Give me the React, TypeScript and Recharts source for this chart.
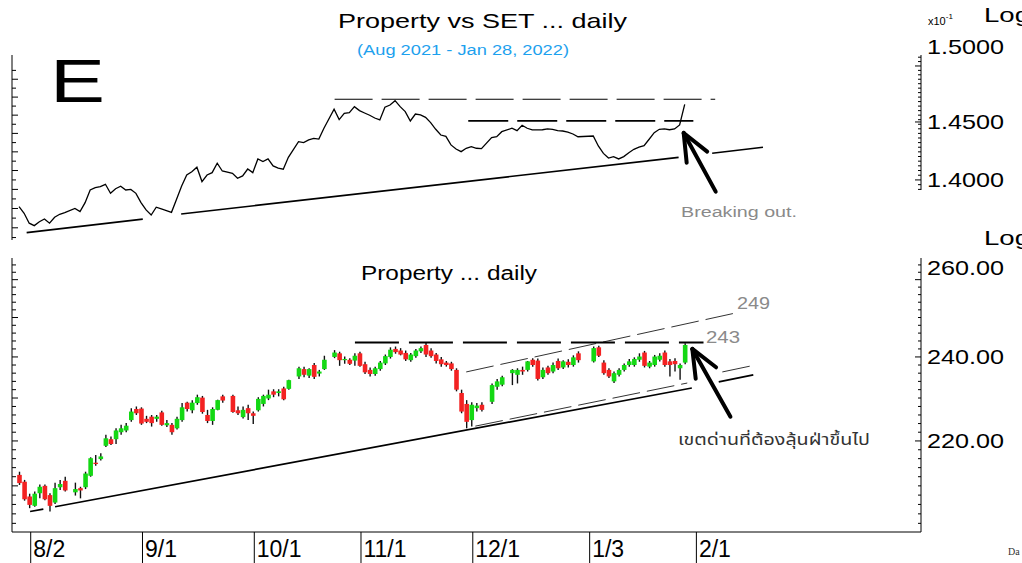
import React from "react";
import { ComposedChart, Line, Bar, XAxis, YAxis, ReferenceLine } from "recharts";

// one x slot per weekday starting Thu 29 Jul 2021, SET holidays stay empty
const FIRST_SLOT = "2021-07-29";
const LAST_SESSION = "2022-01-28";
const SLOT_COUNT = 178;
const HOLIDAYS = ["2021-08-12", "2021-09-24", "2021-10-13", "2021-10-22", "2021-12-06", "2021-12-10", "2021-12-31", "2022-01-03"];
const MONTH_DATES = ["2021-08-02", "2021-09-01", "2021-10-01", "2021-11-01", "2021-12-01", "2022-01-03", "2022-02-01"];
const MONTH_LABELS = ["8/2", "9/1", "10/1", "11/1", "12/1", "1/3", "2/1"];

// Property index, one value per session
const OPEN = [
  212.4, 210.9, 207.7, 205.7, 208.4, 210.0, 208.0, 206.4, 209.7, 211.1,
  208.6, 209.5, 209.7, 212.2, 215.1, 215.9, 218.9, 220.4, 220.4, 222.0,
  222.4, 224.8, 227.4, 227.5, 225.1, 225.6, 225.1, 226.6, 223.6, 223.7,
  222.9, 224.8, 228.9, 227.1, 228.8, 230.1, 226.0, 224.6, 227.2, 230.4,
  230.5, 227.1, 225.5, 227.6, 226.4, 227.1, 228.6, 229.9, 231.6, 231.2, 232.3, 232.2,
  235.2, 237.0, 235.4, 238.0, 235.9, 237.0,
  240.0, 240.9, 239.2, 239.3, 239.1, 240.9, 238.2, 236.8, 235.8, 237.0,
  238.4, 240.0, 242.0, 241.6, 241.0, 239.2, 240.2, 241.4, 243.0, 241.6,
  240.6, 239.4, 238.6, 238.4, 236.8, 231.2, 228.6, 224.8, 227.6, 228.4,
  229.1, 232.7, 233.2,
  236.0, 235.6, 236.8, 236.8, 239.3, 239.1, 235.0, 237.4, 236.4, 239.0, 237.4, 238.8, 238.0, 240.9,
  238.9, 242.4, 238.6, 236.8, 234.0, 235.6, 236.8, 238.0, 238.0, 239.3, 241.1, 237.6, 238.0, 239.3, 241.1, 238.9, 239.0, 237.2, 238.6,
];
const HIGH = [
  213.1, 211.3, 208.3, 208.8, 210.3, 210.3, 208.4, 210.7, 211.3, 212.0,
  210.7, 209.8, 213.1, 216.3, 216.8, 217.2, 221.4, 221.0, 222.9, 223.7,
  224.1, 227.6, 228.0, 227.8, 225.8, 226.0, 226.0, 227.0, 224.8, 224.1,
  225.6, 228.8, 229.1, 229.5, 230.8, 230.5, 227.2, 227.8, 229.6, 230.8,
  230.8, 228.0, 228.0, 228.4, 226.8, 230.2, 230.8, 232.0, 232.1, 232.1, 232.7, 234.4,
  237.6, 237.6, 237.2, 238.5, 236.8, 240.3,
  241.7, 241.3, 240.1, 239.7, 240.9, 241.3, 238.8, 237.4, 237.6, 239.0,
  240.6, 242.4, 242.6, 242.2, 241.6, 241.0, 242.0, 242.6, 243.6, 242.2,
  241.0, 240.0, 239.0, 238.8, 237.2, 232.0, 229.5, 229.0, 228.8, 229.0,
  233.5, 234.6, 235.4,
  237.0, 237.2, 237.6, 239.0, 239.7, 239.6, 237.4, 237.8, 238.6, 239.6, 239.2, 239.4, 240.4, 241.4,
  242.6, 242.8, 239.2, 237.2, 236.4, 237.2, 238.4, 239.5, 239.9, 240.9, 241.5, 239.0, 240.5, 240.9, 241.6, 239.5, 239.7, 238.4, 243.4,
];
const LOW = [
  210.2, 206.8, 205.2, 205.5, 207.3, 206.9, 204.5, 206.1, 209.1, 208.8,
  207.9, 207.3, 209.3, 212.0, 214.4, 215.6, 218.6, 219.1, 219.3, 221.4,
  222.0, 224.4, 226.0, 223.7, 224.1, 223.3, 224.4, 223.5, 223.2, 221.4,
  222.6, 224.4, 226.8, 226.4, 228.4, 226.3, 224.1, 223.7, 227.1, 228.9,
  226.5, 226.0, 225.2, 224.8, 223.9, 226.8, 228.0, 229.5, 230.2, 230.4, 229.5, 232.0,
  234.6, 235.0, 234.8, 234.6, 235.2, 236.8,
  239.7, 237.8, 238.3, 238.0, 237.8, 237.6, 235.8, 235.2, 235.4, 236.6,
  238.0, 239.6, 240.8, 240.4, 239.0, 238.8, 239.8, 241.0, 240.0, 239.8,
  238.4, 237.6, 237.6, 236.6, 231.6, 226.4, 222.9, 223.3, 226.8, 226.8,
  228.6, 232.0, 232.8,
  233.1, 233.5, 235.6, 236.4, 237.6, 234.2, 234.6, 235.6, 236.0, 236.8, 237.0, 237.4, 237.6, 238.6,
  238.6, 240.0, 235.6, 234.8, 233.6, 235.2, 236.4, 237.6, 237.6, 238.8, 237.4, 237.2, 237.6, 238.9, 237.6, 235.2, 236.4, 234.4, 238.2,
];
const CLOSE = [
  210.6, 207.1, 205.9, 208.3, 209.8, 207.1, 205.7, 209.5, 210.4, 209.0,
  209.3, 209.0, 212.7, 216.1, 214.8, 216.5, 220.6, 219.3, 222.4, 222.9,
  223.5, 226.8, 226.4, 224.0, 224.4, 224.1, 225.6, 223.7, 224.1, 222.0,
  225.1, 227.8, 227.4, 228.9, 230.2, 226.7, 224.6, 227.4, 229.5, 229.4,
  226.7, 226.4, 227.2, 226.4, 225.8, 229.8, 230.5, 230.8, 230.8, 231.6, 229.7, 234.3,
  237.2, 235.6, 237.0, 235.1, 236.4, 239.3,
  241.1, 239.2, 239.5, 238.3, 240.3, 237.8, 236.2, 235.8, 237.2, 238.6,
  240.2, 241.8, 241.2, 240.6, 239.4, 240.6, 241.6, 242.2, 240.6, 240.2,
  239.0, 238.2, 238.0, 237.0, 232.0, 226.8, 224.4, 228.4, 228.2, 227.2,
  233.1, 234.0, 235.0,
  236.8, 236.8, 236.4, 238.9, 238.0, 234.6, 236.8, 236.0, 238.0, 237.2, 238.9, 238.0, 239.9, 239.2,
  242.2, 240.3, 236.0, 235.2, 236.0, 236.8, 238.0, 238.9, 239.5, 240.1, 237.8, 238.6, 240.1, 240.3, 238.0, 238.0, 238.2, 238.0, 243.0,
];
// Property / SET relative ratio (x10^-1)
const RATIO = [
  1.3775, 1.372, 1.3638, 1.3618, 1.365, 1.3673, 1.3638, 1.3687, 1.3712, 1.3725,
  1.3761, 1.3734, 1.3809, 1.3915, 1.3935, 1.3943, 1.3963, 1.3887, 1.3926, 1.3947,
  1.3915, 1.392, 1.3887, 1.3809, 1.3748, 1.3706, 1.3771, 1.3756, 1.3742, 1.3728,
  1.3837, 1.3949, 1.4042, 1.407, 1.4108, 1.3986, 1.4042, 1.4062, 1.4142, 1.4076,
  1.4056, 1.4014, 1.4034, 1.4093, 1.4062, 1.4179, 1.4156, 1.4179, 1.4119, 1.41, 1.4091, 1.4193,
  1.4328, 1.432, 1.4343, 1.4357, 1.4351, 1.4445,
  1.4612, 1.4521, 1.4576, 1.4582, 1.4635, 1.46, 1.4579, 1.4559, 1.4535, 1.4518,
  1.463, 1.465, 1.4688, 1.4635, 1.4591, 1.4509, 1.457, 1.4562, 1.4541, 1.4494,
  1.4436, 1.4386, 1.4374, 1.43, 1.4265, 1.4242, 1.4271, 1.4285, 1.4271, 1.4268,
  1.4363, 1.4371, 1.4415,
  1.4445, 1.4424, 1.4471, 1.4445, 1.443, 1.443, 1.4432, 1.4439, 1.4436, 1.4424, 1.4421, 1.4412, 1.4395, 1.4371,
  1.4377, 1.4291, 1.4227, 1.4187, 1.4199, 1.4179, 1.4199, 1.4233, 1.4262, 1.428, 1.4294, 1.4349, 1.4406, 1.4436, 1.4439, 1.4432, 1.4439, 1.4474, 1.4656,
];

// hand-drawn trend lines, in (slot, value)
const RATIO_SUPPORT = [
  [{ x: 1.5, y: 1.356 }, { x: 24.35, y: 1.3671 }],
  [{ x: 31.9, y: 1.3714 }, { x: 129.8, y: 1.4193 }],
  [{ x: 136.4, y: 1.4228 }, { x: 146.4, y: 1.428 }],
];
const RATIO_TOP_LEVEL = [{ x: 62.1, y: 1.4701 }, { x: 137.0, y: 1.4701 }];
const RATIO_BREAK_LEVEL = [{ x: 88.4, y: 1.4509 }, { x: 132.7, y: 1.4509 }];
const RATIO_ARROW = [{ x: 137.1, y: 1.3901 }, { x: 130.8, y: 1.4404 }];

const PRICE_SUPPORT = [
  [{ x: 2.17, y: 204.5 }, { x: 4.78, y: 205.0 }],
  [{ x: 7.09, y: 205.5 }, { x: 132.4, y: 232.4 }],
  [{ x: 137.7, y: 233.9 }, { x: 144.5, y: 235.6 }],
];
const PRICE_RESISTANCE = [{ x: 66.1, y: 243.6 }, { x: 134.7, y: 243.6 }];
const CHANNEL_UPPER = [[{ x: 88.0, y: 236.3 }, { x: 141.1, y: 251.2 }]];
const CHANNEL_LOWER = [
  [{ x: 89.8, y: 223.4 }, { x: 131.5, y: 233.6 }],
  [{ x: 138.4, y: 236.3 }, { x: 144.9, y: 238.0 }],
];
const PRICE_ARROW = [{ x: 140.0, y: 225.6 }, { x: 132.5, y: 242.0 }];

const RATIO_LABELS = [1.4, 1.45, 1.5];
const RATIO_LABEL_TEXT = ["1.4000", "1.4500", "1.5000"];
const PRICE_LABELS = [220, 240, 260];
const PRICE_LABEL_TEXT = ["220.00", "240.00", "260.00"];

const X_MIN = -1.386;
const X_MAX = 177.5;
const RATIO_DOMAIN = [1.35, 1.51];
const PRICE_DOMAIN = [200.2, 265.9];

const FONT = "'Liberation Sans', Arial, sans-serif";
const GREEN = "#14d814";
const RED = "#f32222";

// build session rows on the weekday grid
const slotDates: string[] = [];
{
  const d = new Date(FIRST_SLOT + "T00:00:00Z");
  while (slotDates.length < SLOT_COUNT) {
    const wd = d.getUTCDay();
    if (wd !== 0 && wd !== 6) slotDates.push(d.toISOString().slice(0, 10));
    d.setUTCDate(d.getUTCDate() + 1);
  }
}
const rows: any[] = [];
{
  let k = 0;
  slotDates.forEach((date, i) => {
    if (date > LAST_SESSION || HOLIDAYS.includes(date)) return;
    rows.push({ i, date, open: OPEN[k], high: HIGH[k], low: LOW[k], close: CLOSE[k], ratio: RATIO[k] });
    k++;
  });
}
const MONTH_SLOTS = MONTH_DATES.map((d) => slotDates.indexOf(d));

const near = (a: number, b: number) => Math.abs(a - b) < 1e-6;
const steps = (from: number, to: number, step: number) => {
  const out: number[] = [];
  for (let v = from; v <= to + 1e-9; v += step) out.push(Math.round(v * 10000) / 10000);
  return out;
};
const TOP_RIGHT_TICKS = [...steps(1.392, 1.508, 0.004).filter((v) => !RATIO_LABELS.some((l) => near(l, v))), ...RATIO_LABELS];
const TOP_LEFT_TICKS = steps(1.352, 1.496, 0.008);
const PRICE_TICKS = [...steps(202, 264, 2).filter((v) => !PRICE_LABELS.includes(v)), ...PRICE_LABELS];

function Candle(props: any) {
  const { x, y, width, height, payload } = props;
  if (!payload || payload.low == null || x == null || y == null) return null;
  const top = Math.min(y, y + height);
  const bottom = Math.max(y, y + height);
  const lh = Math.log(payload.high);
  const ll = Math.log(payload.low);
  const at = (v: number) => (lh === ll ? top : bottom - ((Math.log(v) - ll) / (lh - ll)) * (bottom - top));
  const cx = x + width / 2;
  const yo = at(payload.open);
  const yc = at(payload.close);
  const up = payload.close >= payload.open;
  return (
    <g>
      <line x1={cx} x2={cx} y1={top} y2={bottom} stroke="#111" strokeWidth={1.4} />
      <rect x={cx - 2.3} y={Math.min(yo, yc)} width={4.6} height={Math.max(Math.abs(yc - yo), 1.2)} fill={up ? GREEN : RED} />
    </g>
  );
}

function ArrowShape(props: any) {
  const { x1, y1, x2, y2 } = props;
  if ([x1, y1, x2, y2].some((v) => v == null || Number.isNaN(v))) return null;
  const back = Math.atan2(y1 - y2, x1 - x2);
  const arm = 30;
  const head = [back + 0.4, back - 0.4].map((a) => [x2 + arm * Math.cos(a), y2 + arm * Math.sin(a)]);
  return (
    <g stroke="#000" strokeWidth={4} strokeLinecap="round" fill="none">
      <line x1={x1} y1={y1} x2={x2} y2={y2} />
      {head.map(([hx, hy], n) => (
        <line key={n} x1={x2} y1={y2} x2={hx} y2={hy} />
      ))}
    </g>
  );
}

const rightTick = (values: number[], texts: string[], lift: number) => (props: any) => {
  const { x, y, payload } = props;
  const k = values.findIndex((v) => near(v, payload.value));
  const isTop = k === values.length - 1;
  return (
    <g>
      <line x1={x - (k >= 0 ? 6 : 3)} x2={x} y1={y} y2={y} stroke="#000" />
      {k >= 0 && (
        <text x={x + 6} y={y + (isTop ? lift : 0) + 7.5} fontSize={21} fontFamily={FONT} fill="#000" textLength={77} lengthAdjust="spacingAndGlyphs">
          {texts[k]}
        </text>
      )}
    </g>
  );
};

const leftTick = (long: (v: number) => boolean) => (props: any) => {
  const { x, y, payload } = props;
  return <line x1={x} x2={x + (long(payload.value) ? 6 : 4)} y1={y} y2={y} stroke="#000" />;
};

function MonthTick(props: any) {
  const { x, y, payload } = props;
  const k = MONTH_SLOTS.indexOf(payload.value);
  if (k < 0) return <g />;
  return (
    <g>
      <line x1={x + 1.5} x2={x + 1.5} y1={y} y2={y + 31} stroke="#000" />
      <text x={x + 4} y={y + 25} fontSize={23} fontFamily={FONT} fill="#000">
        {MONTH_LABELS[k]}
      </text>
    </g>
  );
}

const seg = (s: any[], key: string, props: any) => (
  <ReferenceLine key={key} xAxisId="n" yAxisId="r" segment={s} ifOverflow="visible" {...props} />
);

export default function App() {
  return (
    <div style={{ position: "absolute", left: 0, top: 0, width: 1022, height: 563, background: "#fff", overflow: "hidden" }}>
      <div style={{ position: "absolute", left: 0, top: 0 }}>
        <ComposedChart width={1022} height={250} data={rows} margin={{ top: 55, right: 0, bottom: 10, left: 0 }}>
          <XAxis xAxisId="n" dataKey="i" type="number" domain={[X_MIN, X_MAX]} allowDataOverflow hide />
          <YAxis
            yAxisId="r"
            orientation="right"
            width={101}
            type="number"
            scale="log"
            domain={RATIO_DOMAIN}
            allowDataOverflow
            ticks={TOP_RIGHT_TICKS}
            interval={0}
            tickSize={0}
            tickMargin={0}
            axisLine={false}
            tickLine={false}
            tick={rightTick(RATIO_LABELS, RATIO_LABEL_TEXT, -19)}
          />
          <YAxis
            yAxisId="l"
            orientation="left"
            width={12}
            type="number"
            scale="log"
            domain={RATIO_DOMAIN}
            allowDataOverflow
            ticks={TOP_LEFT_TICKS}
            interval={0}
            tickSize={0}
            tickMargin={0}
            axisLine={{ stroke: "#000" }}
            tickLine={false}
            tick={leftTick((v) => Math.round(v * 1000) % 16 === 0)}
          />
          {seg([{ x: X_MAX, y: 1.3915 }, { x: X_MAX, y: 1.51 }], "raxis", { stroke: "#000", strokeWidth: 1 })}
          {RATIO_SUPPORT.map((s, n) => seg(s, "rs" + n, { stroke: "#000", strokeWidth: 1.7 }))}
          {seg(RATIO_TOP_LEVEL, "rtop", { stroke: "#000", strokeWidth: 1.1, strokeDasharray: "38 9" })}
          {seg(RATIO_BREAK_LEVEL, "rbrk", { stroke: "#000", strokeWidth: 1.8, strokeDasharray: "40 9" })}
          <Line xAxisId="n" yAxisId="r" dataKey="ratio" stroke="#000" strokeWidth={1.3} dot={false} activeDot={false} isAnimationActive={false} />
          {seg(RATIO_ARROW, "rarrow", { shape: ArrowShape })}
        </ComposedChart>
      </div>

      <div style={{ position: "absolute", left: 0, top: 250 }}>
        <ComposedChart width={1022} height={313} data={rows} margin={{ top: 8, right: 0, bottom: 0, left: 0 }}>
          <XAxis
            xAxisId="n"
            dataKey="i"
            type="number"
            domain={[X_MIN, X_MAX]}
            allowDataOverflow
            ticks={MONTH_SLOTS}
            interval={0}
            height={31}
            tickSize={0}
            tickMargin={0}
            tickLine={false}
            axisLine={{ stroke: "#000" }}
            tick={MonthTick}
          />
          <YAxis
            yAxisId="r"
            orientation="right"
            width={101}
            type="number"
            scale="log"
            domain={PRICE_DOMAIN}
            allowDataOverflow
            ticks={PRICE_TICKS}
            interval={0}
            tickSize={0}
            tickMargin={0}
            axisLine={{ stroke: "#000" }}
            tickLine={false}
            tick={rightTick(PRICE_LABELS, PRICE_LABEL_TEXT, -12)}
          />
          <YAxis
            yAxisId="l"
            orientation="left"
            width={12}
            type="number"
            scale="log"
            domain={PRICE_DOMAIN}
            allowDataOverflow
            ticks={steps(202, 264, 2)}
            interval={0}
            tickSize={0}
            tickMargin={0}
            axisLine={{ stroke: "#000" }}
            tickLine={false}
            tick={leftTick((v) => v % 10 === 0)}
          />
          {PRICE_SUPPORT.map((s, n) => seg(s, "ps" + n, { stroke: "#000", strokeWidth: 1.7 }))}
          {CHANNEL_UPPER.map((s, n) => seg(s, "cu" + n, { stroke: "#333", strokeWidth: 1, strokeDasharray: "28 7" }))}
          {CHANNEL_LOWER.map((s, n) => seg(s, "cl" + n, { stroke: "#333", strokeWidth: 1, strokeDasharray: "28 7" }))}
          {seg(PRICE_RESISTANCE, "pres", { stroke: "#000", strokeWidth: 2, strokeDasharray: "44 10" })}
          <Bar xAxisId="n" yAxisId="r" dataKey={(d: any) => (d.low == null ? null : [d.low, d.high])} barSize={4} shape={Candle} isAnimationActive={false} />
          {seg(PRICE_ARROW, "parrow", { shape: ArrowShape })}
        </ComposedChart>
      </div>

      <svg width={1022} height={563} style={{ position: "absolute", left: 0, top: 0, pointerEvents: "none" }} fontFamily={FONT}>
        <text x={338} y={28} fontSize={21} textLength={289} lengthAdjust="spacingAndGlyphs">Property vs SET ... daily</text>
        <text x={357} y={55} fontSize={14} fill="#1da1ee" textLength={212} lengthAdjust="spacingAndGlyphs">(Aug 2021 - Jan 28, 2022)</text>
        <text x={50} y={102} fontSize={61} textLength={55} lengthAdjust="spacingAndGlyphs">E</text>
        <text x={928} y={25} fontSize={11}>
          x10<tspan dy={-6} fontSize={8}>-1</tspan>
        </text>
        <text x={984} y={22} fontSize={21} textLength={46} lengthAdjust="spacingAndGlyphs">Log</text>
        <text x={984} y={245} fontSize={21} textLength={46} lengthAdjust="spacingAndGlyphs">Log</text>
        <text x={681} y={217} fontSize={14} fill="#8a8a8a" textLength={116} lengthAdjust="spacingAndGlyphs">Breaking out.</text>
        <text x={361} y={280} fontSize={20} textLength={176} lengthAdjust="spacingAndGlyphs">Property ... daily</text>
        <text x={737} y={309} fontSize={16} fill="#8a8a8a" textLength={33} lengthAdjust="spacingAndGlyphs">249</text>
        <text x={706} y={343} fontSize={16} fill="#8a8a8a" textLength={34} lengthAdjust="spacingAndGlyphs">243</text>
        <text x={678} y={445} fontSize={15} fill="#333" fontFamily="'Noto Sans Thai', 'Noto Sans', Tahoma, sans-serif" textLength={192} lengthAdjust="spacingAndGlyphs">
          เขตด่านที่ต้องลุ้นฝ่าขึ้นไป
        </text>
        <text x={1008} y={555} fontSize={10} fontFamily="'Liberation Serif', serif" fill="#333">Da</text>
      </svg>
    </div>
  );
}
